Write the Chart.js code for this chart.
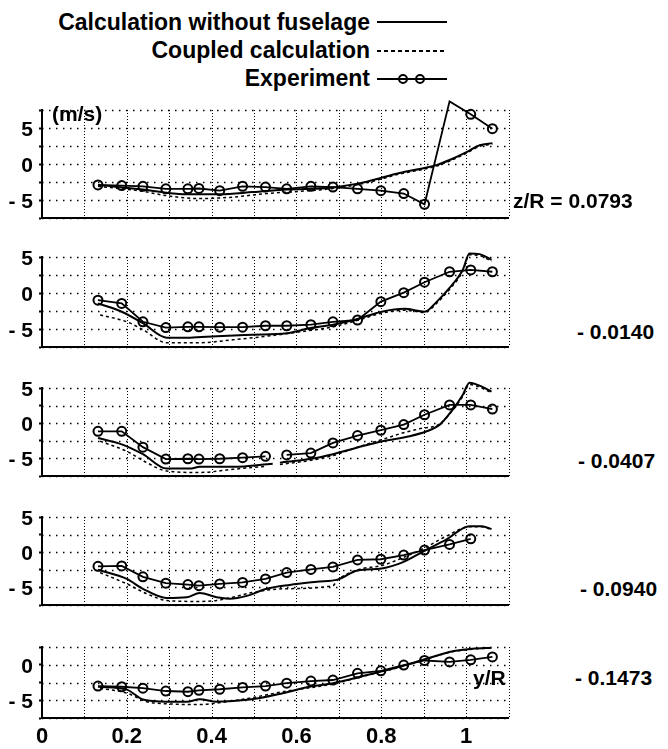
<!DOCTYPE html>
<html>
<head>
<meta charset="utf-8">
<script src="https://cdn.jsdelivr.net/npm/chart.js@4.4.0/dist/chart.umd.min.js"></script>
<style>
  body { margin: 0; background: #fff; }
  #wrap { position: relative; width: 668px; height: 749px; overflow: hidden;
          font-family: 'Liberation Sans', Arial, sans-serif; font-weight: bold; color: #000; }
  canvas { position: absolute; left: 0; }
  .txt { position: absolute; line-height: 1; white-space: nowrap; }
  .leg { left: 0; width: 370px; text-align: right; font-size: 23px; }
  .lab { font-size: 21px; }
  .smp { position: absolute; left: 377px; width: 70px; height: 2px; background: #000; }
  .dash { background: repeating-linear-gradient(90deg, #000 0 4px, transparent 4px 7px); }
  .dot { position: absolute; width: 6px; height: 6px; border: 2px solid #000; border-radius: 50%; background: transparent; }
</style>
</head>
<body>
<div id="wrap">
  <div class="txt leg" style="top:11px">Calculation without fuselage</div>
  <div class="smp" style="top:21px"></div>
  <div class="txt leg" style="top:39px">Coupled calculation</div>
  <div class="smp dash" style="top:50px"></div>
  <div class="txt leg" style="top:67px">Experiment</div>
  <div class="smp" style="top:78px"></div>
  <div class="dot" style="left:398px;top:74px"></div>
  <div class="dot" style="left:415px;top:74px"></div>

  <canvas id="c1"></canvas>
  <canvas id="c2"></canvas>
  <canvas id="c3"></canvas>
  <canvas id="c4"></canvas>
  <canvas id="c5"></canvas>

  <div class="txt lab" style="left:52px;top:103px">(m/s)</div>
  <div class="txt lab" style="left:473px;top:667px">y/R</div>
  <div class="txt lab" style="left:513px;top:190px">z/R = 0.0793</div>
  <div class="txt lab" style="left:577px;top:321px">- 0.0140</div>
  <div class="txt lab" style="left:578px;top:450px">- 0.0407</div>
  <div class="txt lab" style="left:580px;top:578px">- 0.0940</div>
  <div class="txt lab" style="left:575px;top:667px">- 0.1473</div>
</div>
<script>
// experiment stations (y/R), shared by all cuts
const expX = [0.132, 0.188, 0.238, 0.292, 0.344, 0.370, 0.419, 0.473, 0.527, 0.577,
              0.634, 0.686, 0.744, 0.799, 0.853, 0.902, 0.961, 1.011, 1.062];

// z/R = 0.0793
const exp1 = [-2.9, -3.0, -3.1, -3.45, -3.45, -3.4, -3.7, -3.1, -3.2, -3.45, -3.1, -3.2, -3.45, -3.7, -4.1, -5.6, 8.7, 6.9, 4.9];
const calc1X = [0.132, 0.238, 0.294, 0.342, 0.419, 0.497, 0.577, 0.686, 0.766, 0.843, 0.902, 0.930, 0.961, 1.001, 1.032, 1.062];
const calc1Y = [-2.9, -3.55, -4.0, -4.2, -4.2, -3.9, -3.55, -3.25, -2.45, -1.25, -0.55, -0.15, 0.55, 1.65, 2.6, 2.9];
const coup1X = [0.132, 0.238, 0.294, 0.372, 0.45, 0.53, 0.608, 0.686, 0.766, 0.843, 0.902, 0.930, 0.961, 1.001, 1.032, 1.062];
const coup1Y = [-3.1, -3.8, -4.4, -4.8, -4.6, -4.1, -3.8, -3.4, -2.6, -1.4, -0.7, -0.3, 0.4, 1.5, 2.45, 2.75];

// z/R = -0.0140
const exp2 = [-1.0, -1.45, -4.0, -4.8, -4.7, -4.7, -4.75, -4.75, -4.55, -4.55, -4.4, -4.0, -3.75, -1.2, 0.05, 1.5, 2.95, 3.2, 2.95];
const calc2X = [0.132, 0.188, 0.238, 0.294, 0.349, 0.412, 0.497, 0.577, 0.631, 0.686, 0.744, 0.801, 0.855, 0.902, 0.931, 0.961, 0.992, 1.008, 1.032, 1.06];
const calc2Y = [-1.45, -2.6, -4.2, -6.2, -6.2, -6.0, -5.8, -5.6, -4.9, -4.4, -3.6, -2.6, -2.2, -2.6, -1.2, 0.7, 3.2, 5.5, 5.4, 4.6];
const coup2X = [0.137, 0.2, 0.238, 0.294, 0.372, 0.45, 0.53, 0.608, 0.686, 0.744, 0.801, 0.855, 0.902, 0.931, 0.961, 0.992, 1.008, 1.032, 1.06];
const coup2Y = [-3.05, -4.0, -5.1, -6.9, -6.9, -6.5, -6.0, -5.4, -4.7, -3.8, -2.8, -2.4, -2.7, -1.4, 0.5, 3.0, 5.3, 5.2, 4.4];

// z/R = -0.0407 (measurement gap after index 8)
const exp3 = [-1.15, -1.15, -3.4, -5.1, -5.05, -5.1, -5.05, -4.9, -4.7, -4.5, -4.25, -2.8, -1.75, -1.0, -0.2, 1.2, 2.6, 2.6, 2.0];
const exp3Break = 8;
const calc3X = [0.132, 0.188, 0.238, 0.294, 0.349, 0.372, 0.45, 0.544, 0.552, 0.561, 0.631, 0.686, 0.744, 0.803, 0.867, 0.907, 0.938, 0.968, 0.992, 1.008, 1.037, 1.06];
const calc3Y = [-2.1, -3.0, -4.4, -6.45, -6.45, -6.2, -6.2, -5.75, null, -5.6, -5.1, -4.4, -3.45, -2.55, -1.85, -1.15, -0.2, 1.9, 4.0, 5.75, 5.2, 4.5];
const coup3X = [0.137, 0.2, 0.247, 0.294, 0.372, 0.45, 0.53, 0.545, 0.561, 0.631, 0.686, 0.744, 0.803, 0.85, 0.89, 0.938, 0.968, 0.992, 1.008, 1.037, 1.06];
const coup3Y = [-2.55, -4.0, -5.6, -6.8, -7.0, -6.55, -6.1, null, -5.85, -5.3, -4.6, -3.4, -2.3, -1.4, -0.8, -0.1, 1.8, 3.8, 5.5, 5.0, 4.3];

// z/R = -0.0940
const exp4 = [-2.0, -1.95, -3.5, -4.4, -4.6, -4.75, -4.5, -4.3, -3.8, -2.9, -2.45, -2.1, -1.1, -1.0, -0.4, 0.3, 1.1, 1.9];
const calc4X = [0.132, 0.2, 0.238, 0.294, 0.342, 0.372, 0.412, 0.443, 0.483, 0.53, 0.584, 0.648, 0.697, 0.744, 0.801, 0.85, 0.902, 0.954, 1.008, 1.037, 1.06];
const calc4Y = [-2.5, -3.8, -5.2, -6.5, -6.4, -5.8, -6.4, -6.6, -6.2, -5.2, -4.65, -4.2, -3.9, -2.6, -2.3, -1.45, 0.2, 1.83, 3.7, 3.7, 3.3];
const coup4X = [0.137, 0.2, 0.247, 0.294, 0.372, 0.412, 0.45, 0.497, 0.568, 0.686, 0.697, 0.744, 0.801, 0.85, 0.902, 0.954, 1.008, 1.037, 1.06];
const coup4Y = [-2.9, -4.5, -5.9, -6.85, -7.0, -6.85, -6.4, -5.7, -5.2, -4.75, -3.95, -2.5, -1.9, -0.8, 0.6, 2.3, 3.6, 3.6, 3.2];

// z/R = -0.1473
const exp5 = [-3.0, -3.1, -3.3, -3.7, -3.8, -3.6, -3.45, -3.2, -3.0, -2.6, -2.3, -2.15, -1.2, -0.85, -0.05, 0.6, 0.4, 0.7, 1.1];
const calc5X = [0.132, 0.2, 0.238, 0.294, 0.342, 0.372, 0.412, 0.49, 0.568, 0.631, 0.686, 0.766, 0.843, 0.907, 0.961, 1.015, 1.06];
const calc5Y = [-3.1, -3.5, -4.9, -5.2, -5.2, -4.85, -5.2, -4.9, -4.0, -3.1, -2.6, -1.45, -0.3, 0.85, 1.8, 2.25, 2.4];
const coup5X = [0.137, 0.2, 0.247, 0.294, 0.372, 0.412, 0.49, 0.568, 0.648, 0.686, 0.766, 0.843, 0.907, 0.961, 1.015, 1.06];
const coup5Y = [-3.3, -4.0, -5.2, -5.5, -5.6, -5.4, -4.7, -3.8, -3.1, -2.7, -1.5, -0.35, 0.8, 1.75, 2.2, 2.35];

const yLabels = { '5': '5', '0': '0', '-5': '- 5' };
const FONT = "'Liberation Sans', Arial, sans-serif";

const pts = (xs, ys) => xs.map((x, i) => ({ x: x, y: ys[i] }));

// dotted grid through the chart's own tick positions
const dotGrid = {
    id: 'dotGrid',
    beforeDatasetsDraw(chart) {
        const { ctx, chartArea: a, scales: { x, y } } = chart;
        ctx.save();
        ctx.strokeStyle = '#000';
        ctx.lineWidth = 1;
        ctx.setLineDash([1, 2]);
        x.ticks.forEach(t => {
            const px = Math.round(x.getPixelForValue(t.value)) + 0.5;
            ctx.beginPath();
            ctx.moveTo(px, a.top);
            ctx.lineTo(px, a.bottom);
            ctx.stroke();
        });
        ctx.lineWidth = 1.5;
        ctx.setLineDash([1.5, 5.5]);
        y.ticks.forEach(t => {
            const py = Math.round(y.getPixelForValue(t.value)) + 0.5;
            ctx.beginPath();
            ctx.moveTo(a.left, py);
            ctx.lineTo(a.right, py);
            ctx.stroke();
        });
        ctx.restore();
    }
};

function makePanel(id, top, bottom, yMin, yMax, calc, coup, exp, showX, brk) {
    const padTop = 20;
    const hx = showX ? 40 : 20;
    const cv = document.getElementById(id);
    cv.width = 515;
    cv.height = bottom - top + padTop + hx;
    cv.style.top = (top - padTop) + 'px';

    new Chart(cv, {
        type: 'line',
        data: {
            datasets: [{
                data: calc,
                borderColor: '#000',
                borderWidth: 2,
                pointRadius: 0,
                cubicInterpolationMode: 'monotone',
                clip: false
            }, {
                data: coup,
                borderColor: '#000',
                borderWidth: 1.5,
                borderDash: [3, 3],
                pointRadius: 0,
                cubicInterpolationMode: 'monotone',
                clip: false
            }, {
                data: exp,
                borderColor: '#000',
                borderWidth: 1.8,
                pointRadius: 4.5,
                pointBorderWidth: 2,
                pointBackgroundColor: 'rgba(0,0,0,0)',
                pointBorderColor: '#000',
                clip: false,
                segment: {
                    borderColor: ctx => ctx.p0DataIndex === brk ? 'rgba(0,0,0,0)' : '#000'
                }
            }]
        },
        options: {
            responsive: false,
            animation: false,
            devicePixelRatio: 1,
            layout: { padding: { top: padTop, right: 6, left: 0, bottom: 0 } },
            plugins: { legend: { display: false }, tooltip: { enabled: false } },
            scales: {
                x: {
                    type: 'linear',
                    min: 0,
                    max: 1.1,
                    afterFit: s => { s.height = hx; },
                    grid: { drawOnChartArea: false, drawTicks: false },
                    border: { display: true, color: '#000', width: 2 },
                    ticks: {
                        display: showX,
                        stepSize: 0.1,
                        autoSkip: false,
                        maxRotation: 0,
                        padding: 6,
                        color: '#000',
                        font: { family: FONT, size: 22, weight: 'bold' },
                        callback: v => {
                            const t = Math.round(v * 10);
                            if (t % 2 !== 0 || t > 10) return '';
                            return t === 0 ? '0' : t === 10 ? '1' : (t / 10).toString();
                        }
                    }
                },
                y: {
                    min: yMin,
                    max: yMax,
                    afterFit: s => { s.width = 42; },
                    grid: { drawOnChartArea: false, drawTicks: true, tickLength: 3, tickWidth: 2, tickColor: '#000' },
                    border: { display: true, color: '#000', width: 2 },
                    ticks: {
                        stepSize: 2.5,
                        autoSkip: false,
                        padding: 6,
                        labelOffset: 2,
                        color: '#000',
                        font: { family: FONT, size: 21, weight: 'bold' },
                        callback: v => yLabels[String(v)] || ''
                    }
                }
            }
        },
        plugins: [dotGrid]
    });
}

makePanel('c1', 110, 218, -7.5, 7.5, pts(calc1X, calc1Y), pts(coup1X, coup1Y), pts(expX, exp1), false, -1);
makePanel('c2', 257, 347, -7.5, 5, pts(calc2X, calc2Y), pts(coup2X, coup2Y), pts(expX, exp2), false, -1);
makePanel('c3', 388, 476, -7.5, 5, pts(calc3X, calc3Y), pts(coup3X, coup3Y), pts(expX, exp3), false, exp3Break);
makePanel('c4', 517, 605, -7.5, 5, pts(calc4X, calc4Y), pts(coup4X, coup4Y), pts(expX.slice(0, exp4.length), exp4), false, -1);
makePanel('c5', 647, 718, -7.5, 2.5, pts(calc5X, calc5Y), pts(coup5X, coup5Y), pts(expX, exp5), true, -1);
</script>
</body>
</html>
